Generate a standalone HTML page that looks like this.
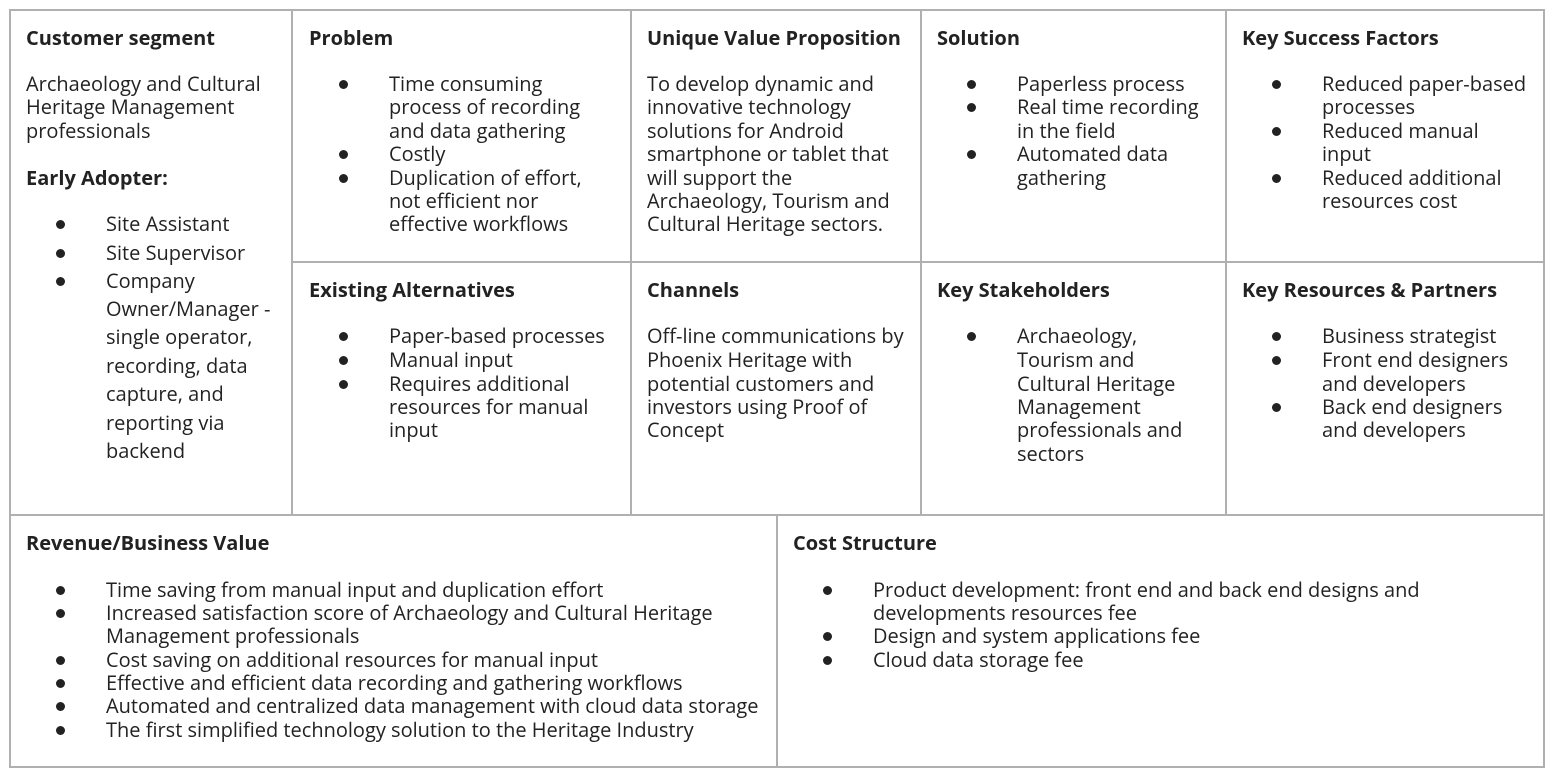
<!DOCTYPE html>
<html><head><meta charset="utf-8"><style>
body{margin:0;width:1552px;height:775px;background:#fff;position:relative;overflow:hidden;font-family:"Open Sans","Liberation Sans",sans-serif;color:#222}
.b{position:absolute;background:#b0b0b0}
.t{position:absolute;font-size:20px;line-height:24px;white-space:nowrap}
.h{font-weight:bold}
.d{position:absolute;width:9px;height:9px;border-radius:50%;background:#222}
</style></head><body>
<div class="b" style="left:9px;top:9px;width:1536px;height:2px"></div>
<div class="b" style="left:9px;top:766px;width:1536px;height:2px"></div>
<div class="b" style="left:9px;top:9px;width:2px;height:759px"></div>
<div class="b" style="left:1543px;top:9px;width:2px;height:759px"></div>
<div class="b" style="left:9px;top:514px;width:1536px;height:2px"></div>
<div class="b" style="left:292px;top:261px;width:1253px;height:2px"></div>
<div class="b" style="left:291px;top:9px;width:2px;height:507px"></div>
<div class="b" style="left:630px;top:9px;width:2px;height:507px"></div>
<div class="b" style="left:920px;top:9px;width:2px;height:507px"></div>
<div class="b" style="left:1225px;top:9px;width:2px;height:507px"></div>
<div class="b" style="left:776px;top:514px;width:2px;height:254px"></div>
<div id="c"></div>
<script>
var out='';
function T(x,y,s,h){out+='<div class="t'+(h?' h':'')+'" style="left:'+x+'px;top:'+(y-12)+'px">'+s+'</div>';}
function D(x,y){out+='<div class="d" style="left:'+(x-4)+'px;top:'+(y-4)+'px"></div>';}
function L(x,ys,arr,bx){for(var i=0;i<arr.length;i++){var s=arr[i];if(s[0]=='*'){D(bx,ys[i]);s=s.slice(1);}T(x,ys[i],s);}}
var r1=[84,107,131,154,178,201,224];
T(26,38,'Customer segment',1);
L(26,[84,107,131],['Archaeology and Cultural','Heritage Management','professionals']);
T(26,178,'Early Adopter:',1);
L(106,[224,253,281,309,337,366,394,423,451],['*Site Assistant','*Site Supervisor','*Company','Owner/Manager -','single operator,','recording, data','capture, and','reporting via','backend'],60);
T(309,38,'Problem',1);
L(389,r1,['*Time consuming','process of recording','and data gathering','*Costly','*Duplication of effort,','not efficient nor','effective workflows'],343);
T(647,38,'Unique Value Proposition',1);
L(647,r1,['To develop dynamic and','innovative technology','solutions for Android','smartphone or tablet that','will support the','Archaeology, Tourism and','Cultural Heritage sectors.']);
T(937,38,'Solution',1);
L(1017,r1,['*Paperless process','*Real time recording','in the field','*Automated data','gathering'],971);
T(1242,38,'Key Success Factors',1);
L(1322,r1,['*Reduced paper-based','processes','*Reduced manual','input','*Reduced additional','resources cost'],1276);
var r2=[336,360,384,407,430,454];
T(309,290,'Existing Alternatives',1);
L(389,r2,['*Paper-based processes','*Manual input','*Requires additional','resources for manual','input'],343);
T(647,290,'Channels',1);
L(647,r2,['Off-line communications by','Phoenix Heritage with','potential customers and','investors using Proof of','Concept']);
T(937,290,'Key Stakeholders',1);
L(1017,r2,['*Archaeology,','Tourism and','Cultural Heritage','Management','professionals and','sectors'],971);
T(1242,290,'Key Resources &amp; Partners',1);
L(1322,r2,['*Business strategist','*Front end designers','and developers','*Back end designers','and developers'],1276);
var r3=[590,613,636,660,683,706,730];
T(26,543,'Revenue/Business Value',1);
L(106,r3,['*Time saving from manual input and duplication effort','*Increased satisfaction score of Archaeology and Cultural Heritage','Management professionals','*Cost saving on additional resources for manual input','*Effective and efficient data recording and gathering workflows','*Automated and centralized data management with cloud data storage','*The first simplified technology solution to the Heritage Industry'],60);
T(793,543,'Cost Structure',1);
L(873,r3,['*Product development: front end and back end designs and','developments resources fee','*Design and system applications fee','*Cloud data storage fee'],827);
document.getElementById('c').innerHTML=out;
</script>
</body></html>
